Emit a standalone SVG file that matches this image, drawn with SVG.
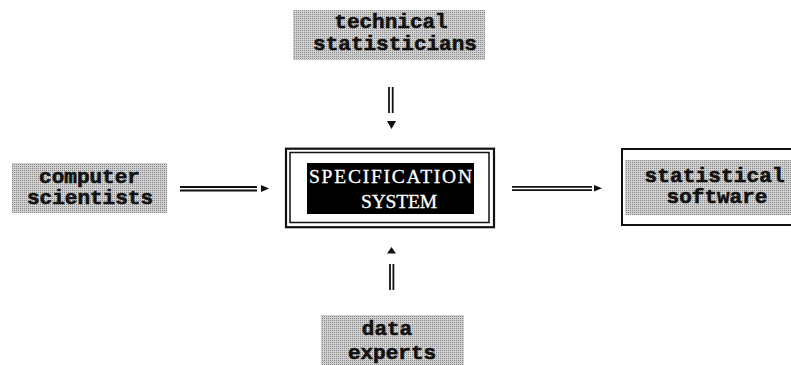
<svg xmlns="http://www.w3.org/2000/svg" width="791" height="365" viewBox="0 0 791 365">
  <defs>
    <!-- halftone screen used for the shaded labels -->
    <pattern id="screen" width="2" height="2" patternUnits="userSpaceOnUse">
      <rect width="2" height="2" fill="#d0d0d0"/>
      <rect width="1" height="1" fill="#888"/>
    </pattern>
    <style>
      .shade { fill: url(#screen); }
      .label { font-family: "Liberation Mono", "Courier New", monospace; font-weight: bold; font-size: 21px; fill: #111; stroke: #111; stroke-width: 0.6; text-anchor: middle; }
      .core { font-family: "Liberation Serif", "Times New Roman", serif; font-size: 19.5px; fill: #fff; stroke: #fff; stroke-width: 0.3; }
      .rail { stroke: #111; stroke-width: 1.8; fill: none; }
      .head { fill: #111; }
    </style>
  </defs>
  <rect width="791" height="365" fill="#fff"/>

  <g id="technical-statisticians">
    <rect class="shade" x="293" y="10" width="192" height="50"/>
    <text class="label" x="391" y="28">technical</text>
    <text class="label" x="395" y="50">statisticians</text>
  </g>

  <g id="computer-scientists">
    <rect class="shade" x="12" y="163" width="155" height="50"/>
    <text class="label" x="89.5" y="182.5">computer</text>
    <text class="label" x="90" y="203.5">scientists</text>
  </g>

  <g id="specification-system">
    <rect x="286" y="148.7" width="208" height="78.5" fill="none" stroke="#111" stroke-width="2.2"/>
    <rect x="290" y="152.5" width="199" height="70" fill="none" stroke="#111" stroke-width="1.5"/>
    <rect x="307" y="163" width="167" height="51" fill="#000"/>
    <text class="core" x="309" y="182.5" textLength="163" lengthAdjust="spacing">SPECIFICATION</text>
    <text class="core" x="361" y="208" textLength="76" lengthAdjust="spacing">SYSTEM</text>
  </g>

  <g id="statistical-software">
    <rect x="622" y="149" width="180" height="76" fill="none" stroke="#111" stroke-width="2"/>
    <rect class="shade" x="625" y="160" width="175" height="55"/>
    <text class="label" x="714.5" y="182" textLength="140" lengthAdjust="spacing">statistical</text>
    <text class="label" x="717" y="203">software</text>
  </g>

  <g id="data-experts">
    <rect class="shade" x="321" y="315" width="143" height="55"/>
    <text class="label" x="387" y="335">data</text>
    <text class="label" x="392" y="359">experts</text>
  </g>

  <g id="connectors">
    <!-- computer scientists to specification system -->
    <line class="rail" x1="180" y1="187" x2="257" y2="187"/>
    <line class="rail" x1="180" y1="190.5" x2="257" y2="190.5"/>
    <polygon class="head" points="261,185 261,192 269,188.5"/>
    <!-- specification system to statistical software -->
    <line class="rail" x1="512" y1="186.8" x2="592" y2="186.8"/>
    <line class="rail" x1="512" y1="190.2" x2="592" y2="190.2"/>
    <polygon class="head" points="594,185 594,191.6 602,188.3"/>
    <!-- technical statisticians down to specification system -->
    <line class="rail" x1="389" y1="87" x2="389" y2="113"/>
    <line class="rail" x1="392.7" y1="87" x2="392.7" y2="113"/>
    <polygon class="head" points="387,121 396,121 391.5,129"/>
    <!-- data experts up to specification system -->
    <line class="rail" x1="390" y1="264" x2="390" y2="290"/>
    <line class="rail" x1="393.4" y1="264" x2="393.4" y2="290"/>
    <polygon class="head" points="391.5,247 387,253.5 396,253.5"/>
  </g>
</svg>
